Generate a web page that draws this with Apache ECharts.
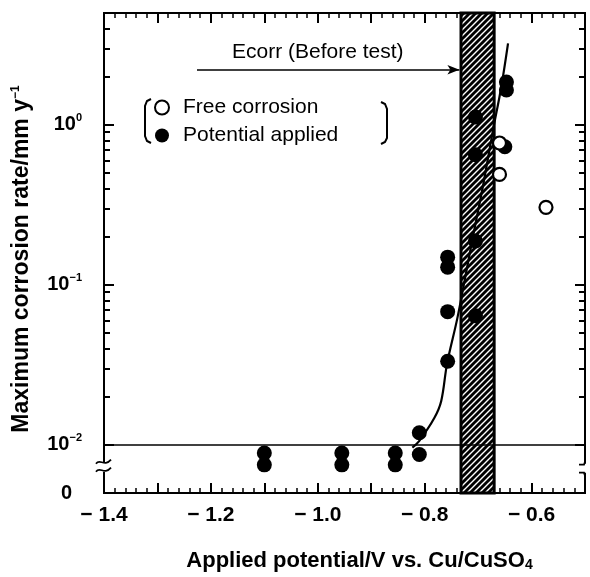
<!DOCTYPE html>
<html><head><meta charset="utf-8">
<script src="https://cdn.jsdelivr.net/npm/echarts@6/dist/echarts.min.js"></script>
<style>html,body{margin:0;padding:0;background:#fff}#c{width:590px;height:577px}</style>
</head><body><div id="c"></div>
<script>
// ---- data ----
const freeCorrosion = [[-0.66, 0.77], [-0.66, 0.49], [-0.573, 0.305]];
const potentialApplied = [
  [-1.10, 0.0089], [-1.10, 0.0075],
  [-0.955, 0.0089], [-0.955, 0.0075],
  [-0.855, 0.0089], [-0.855, 0.0075],
  [-0.81, 0.0119], [-0.81, 0.0087],
  [-0.757, 0.0333], [-0.757, 0.068], [-0.757, 0.129], [-0.757, 0.149],
  [-0.705, 0.064], [-0.705, 0.188], [-0.705, 0.65], [-0.705, 1.12],
  [-0.65, 0.73], [-0.647, 1.65], [-0.647, 1.85]
];
const fitCurve = [
  [-0.823, 0.0096], [-0.81, 0.0106], [-0.782, 0.0147], [-0.769, 0.0188],
  [-0.758, 0.0323], [-0.739, 0.0615], [-0.724, 0.112], [-0.709, 0.205],
  [-0.690, 0.430], [-0.672, 0.931], [-0.657, 1.70], [-0.644, 3.23]
];
const ecorrBand = [-0.732, -0.670];
const ecorrArrow = [[-1.226, 2.21], [-0.735, 2.21]];
const ecorrLabelPos = [-1.0, 2.84];
const xTickValues = [-1.4, -1.2, -1.0, -0.8, -0.6];
const xTickLabels = ['− 1.4', '− 1.2', '− 1.0', '− 0.8', '− 0.6'];
const yTickValues = [0.005, 0.01, 0.1, 1];
const yTickLabels = ['{z|0}', '{b|10}{s|−2}', '{b|10}{s|−1}', '{b|10}{s|0}'];
const yMajorTicks = [0.01, 0.1, 1];
const yMinorTicks = [0.02,0.03,0.04,0.05,0.06,0.07,0.08,0.09,0.2,0.3,0.4,0.5,0.6,0.7,0.8,0.9,2,3,4];

const FONT = "'Liberation Sans', Arial, Helvetica, sans-serif";
const xMin = -1.4, xMax = -0.5, yMin = 0.005, yMax = 5;

function hatch() {
  const s = 6, c = document.createElement('canvas');
  c.width = s; c.height = s;
  const g = c.getContext('2d');
  g.fillStyle = '#000'; g.fillRect(0, 0, s, s);
  g.strokeStyle = '#fff'; g.lineWidth = 1.4;
  g.beginPath();
  g.moveTo(0, s); g.lineTo(s, 0);
  g.moveTo(-1, 1); g.lineTo(1, -1);
  g.moveTo(s - 1, s + 1); g.lineTo(s + 1, s - 1);
  g.stroke();
  return c;
}

const axisLine = { show: true, lineStyle: { color: '#000', width: 2 } };
function xAx(pos, labels) {
  return {
    type: 'value', min: xMin, max: xMax, interval: 0.1, position: pos,
    axisLine: axisLine,
    axisTick: { show: true, inside: true, length: 10, lineStyle: { color: '#000', width: 2 } },
    minorTick: { show: true, splitNumber: 5, length: 5, lineStyle: { color: '#000', width: 1.5 } },
    splitLine: { show: false }, minorSplitLine: { show: false },
    axisLabel: labels ? {
      customValues: xTickValues,
      formatter: v => { const i = xTickValues.findIndex(t => Math.abs(t - v) < 1e-6); return i >= 0 ? xTickLabels[i] : ''; },
      margin: 12, color: '#000', fontFamily: FONT, fontSize: 21, fontWeight: 'bold'
    } : { show: false },
    name: labels ? 'Applied potential/V vs. Cu/CuSO{sub|4}' : '',
    nameLocation: 'middle', nameGap: 57,
    nameTextStyle: { color: '#000', fontFamily: FONT, fontSize: 22, fontWeight: 'bold', padding: [0, 0, 0, 30],
      rich: { sub: { fontSize: 14, fontWeight: 'bold', fontFamily: FONT, verticalAlign: 'bottom', padding: [8, 0, 0, 0] } } }
  };
}
function yAx(pos, ticks, len, labels) {
  return {
    type: 'log', logBase: 10, min: yMin, max: yMax, position: pos,
    axisLine: axisLine,
    axisTick: { show: true, inside: true, length: len, customValues: ticks, lineStyle: { color: '#000', width: 2 } },
    splitLine: { show: false }, minorTick: { show: false },
    axisLabel: labels ? {
      customValues: yTickValues,
      formatter: v => { const i = yTickValues.findIndex(t => Math.abs(Math.log10(t) - Math.log10(v)) < 0.01); return i >= 0 ? yTickLabels[i] : ''; },
      margin: 22, color: '#000',
      rich: {
        b: { fontFamily: FONT, fontSize: 20, fontWeight: 'bold', color: '#000', lineHeight: 24 },
        s: { fontFamily: FONT, fontSize: 11, fontWeight: 'bold', color: '#000', verticalAlign: 'top', lineHeight: 12 },
        z: { fontFamily: FONT, fontSize: 20, fontWeight: 'bold', color: '#000', padding: [0, 10, 0, 0] }
      }
    } : { show: false },
    name: labels ? 'Maximum corrosion rate/mm y{sup|−1}' : '',
    nameLocation: 'middle', nameGap: 71,
    nameTextStyle: { color: '#000', fontFamily: FONT, fontSize: 23, fontWeight: 'bold', padding: [0, 12, 0, 0],
      rich: { sup: { fontFamily: FONT, fontSize: 12, fontWeight: 'bold', verticalAlign: 'top', lineHeight: 12 } } }
  };
}

const chart = echarts.init(document.getElementById('c'), null, { renderer: 'canvas' });
chart.setOption({
  animation: false,
  backgroundColor: '#fff',
  grid: { left: 104, right: 5, top: 13, bottom: 82 },
  legend: {
    data: ['Free corrosion', 'Potential applied'], orient: 'vertical', left: 149, top: 92,
    itemWidth: 14, itemHeight: 14, itemGap: 7,
    textStyle: { fontFamily: FONT, fontSize: 21, color: '#000', padding: [0, 0, 0, 9] }
  },
  xAxis: [xAx('bottom', true), xAx('top', false)],
  yAxis: [
    yAx('left', yMajorTicks, 10, true), yAx('left', yMinorTicks, 6, false),
    yAx('right', yMajorTicks, 10, false), yAx('right', yMinorTicks, 6, false)
  ],
  series: [
    {
      name: 'fit', type: 'line', data: fitCurve, smooth: 0.35, showSymbol: false, silent: true,
      lineStyle: { color: '#000', width: 2.2 }, z: 3,
      markArea: {
        silent: true,
        itemStyle: { color: { image: hatch(), repeat: 'repeat' }, borderColor: '#000', borderWidth: 3 },
        data: [[{ xAxis: ecorrBand[0] }, { xAxis: ecorrBand[1] }]]
      },
      markLine: {
        silent: true, symbol: ['none', 'none'], label: { show: false },
        lineStyle: { color: '#000', width: 1.6, type: 'solid' },
        data: [
          { yAxis: 0.01 },
          [{ coord: ecorrArrow[0], symbol: 'none' }, { coord: ecorrArrow[1], symbol: 'arrow', symbolSize: [7, 12] }]
        ]
      },
      markPoint: {
        silent: true, symbol: 'circle', symbolSize: 0,
        label: { show: true, position: 'inside', color: '#000', fontFamily: FONT, fontSize: 21, formatter: 'Ecorr (Before test)' },
        data: [{ coord: ecorrLabelPos }]
      }
    },
    {
      name: 'Free corrosion', type: 'scatter', data: freeCorrosion, symbol: 'circle', symbolSize: 13, z: 5,
      itemStyle: { color: '#fff', borderColor: '#000', borderWidth: 2.2, opacity: 1 }
    },
    {
      name: 'Potential applied', type: 'scatter', data: potentialApplied, symbol: 'circle', symbolSize: 15, z: 4,
      itemStyle: { color: '#000', opacity: 1 }
    }
  ]
});

// decorations: axis break marks and legend brackets
const yb = chart.convertToPixel({ yAxisIndex: 0 }, 0.0073);
const xl = chart.convertToPixel({ xAxisIndex: 0 }, xMin);
const xr = chart.convertToPixel({ xAxisIndex: 0 }, xMax);
const wave = (x, y) => ({ type: 'bezierCurve', z: 101,
  shape: { x1: x - 8, y1: y + 1, cpx1: x - 4, cpy1: y - 5, cpx2: x, cpy2: y + 5, x2: x + 7, y2: y - 3 },
  style: { fill: null, stroke: '#000', lineWidth: 1.8 } });
const ln = (pts, w) => ({ type: 'polyline', z: 101, shape: { points: pts }, style: { fill: null, stroke: '#000', lineWidth: w || 1.8 } });
chart.setOption({
  graphic: [
    { type: 'rect', z: 100, shape: { x: xl - 3, y: yb - 4, width: 6, height: 9 }, style: { fill: '#fff' } },
    wave(xl, yb - 4), wave(xl, yb + 4),
    { type: 'rect', z: 100, shape: { x: xr - 3, y: yb - 3, width: 6, height: 9 }, style: { fill: '#fff' } },
    ln([[xr, yb - 5], [xr - 1, yb - 2], [xr - 6, yb - 2]]),
    ln([[xr - 6, yb + 6], [xr - 1, yb + 6], [xr, yb + 9]]),
    ln([[151, 99], [147, 101], [145, 106], [145, 136], [147, 141], [151, 143]], 2),
    ln([[381, 102], [385, 104], [387, 109], [387, 138], [385, 142], [381, 144]], 2)
  ]
});
</script>
</body></html>
